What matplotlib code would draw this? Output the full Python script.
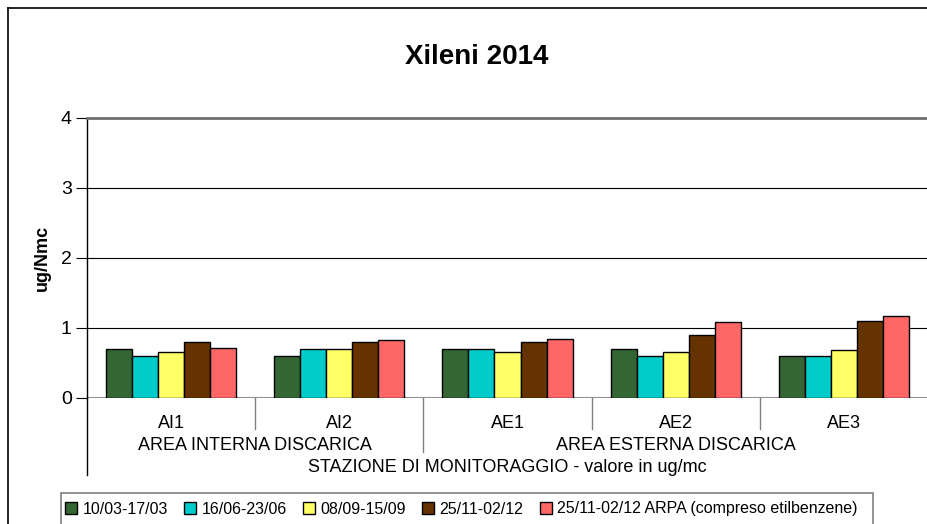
import matplotlib
matplotlib.use("Agg")
import matplotlib.pyplot as plt
import matplotlib.transforms as mtransforms
from matplotlib.lines import Line2D
from matplotlib.patches import Rectangle

plt.rcParams["font.family"] = ["Liberation Sans", "DejaVu Sans"]

# data
stations = ["AI1", "AI2", "AE1", "AE2", "AE3"]
areas = ["AREA INTERNA DISCARICA", "AREA ESTERNA DISCARICA"]
area_span = [(0, 2), (2, 5)]
periods = ["10/03-17/03", "16/06-23/06", "08/09-15/09", "25/11-02/12",
           "25/11-02/12 ARPA (compreso etilbenzene)"]
v_1003 = [0.70, 0.60, 0.70, 0.70, 0.60]
v_1606 = [0.60, 0.70, 0.70, 0.60, 0.60]
v_0809 = [0.66, 0.70, 0.66, 0.66, 0.68]
v_2511 = [0.80, 0.80, 0.80, 0.90, 1.10]
v_arpa = [0.72, 0.83, 0.84, 1.09, 1.17]
series = [v_1003, v_1606, v_0809, v_2511, v_arpa]
colors = ["#336633", "#00CCCC", "#FFFF66", "#663300", "#FF6666"]

W, H = 928, 524
fig = plt.figure(figsize=(W / 100, H / 100), dpi=100)
fig.patch.set_facecolor("white")

# outer chart border (left + top only visible)
fig.add_artist(Line2D([8 / W, 8 / W], [0, 1 - 8 / H], color="black", lw=1.2))
fig.add_artist(Line2D([8 / W, 1], [1 - 8 / H, 1 - 8 / H], color="black", lw=1.2))

ax = fig.add_axes([87 / W, (H - 398) / H, 841 / W, 280 / H])
ax.set_xlim(0, len(stations))
ax.set_ylim(0, 4)

bw = 0.155
start = (1 - bw * len(series)) / 2
for i, (vals, c) in enumerate(zip(series, colors)):
    xs = [k + start + bw * (i + 0.5) for k in range(len(stations))]
    ax.bar(xs, vals, width=bw, color=c, edgecolor="black", linewidth=1.0, zorder=3)

for y in [1, 2, 3]:
    ax.axhline(y, color="black", lw=0.8, zorder=1)
for s in ["right", "bottom"]:
    ax.spines[s].set_visible(False)
ax.spines["top"].set_color("#707070")
ax.spines["top"].set_linewidth(2.0)
ax.axhline(0, color="#909090", lw=1.5, zorder=2)
ax.spines["left"].set_color("black")
ax.spines["left"].set_linewidth(1.0)

ax.set_yticks([0, 1, 2, 3, 4])
ax.tick_params(axis="y", direction="out", length=8, width=0.8, labelsize=14, pad=3)
ax.set_xticks([])
ax.set_ylabel("ug/Nmc", fontsize=13, fontweight="bold", labelpad=7)

tr = mtransforms.blended_transform_factory(ax.transData, ax.transAxes)
px = 1 / 280  # one pixel in axes fraction

# left axis extension below zero
ax.add_line(Line2D([0, 0], [0, -77 * px], transform=tr, color="black", lw=1.0, clip_on=False))
# category separators
for k in range(1, len(stations)):
    long = any(k == a for a, b in area_span[1:])
    ax.add_line(Line2D([k, k], [0, -(54 if long else 31) * px], transform=tr,
                       color="#808080", lw=1.0, clip_on=False))

for k, s in enumerate(stations):
    ax.text(k + 0.5, -25 * px, s, transform=tr, ha="center", va="center", fontsize=13)
for name, (a, b) in zip(areas, area_span):
    ax.text((a + b) / 2, -47 * px, name, transform=tr, ha="center", va="center", fontsize=13)
ax.text(len(stations) / 2, -69 * px, "STAZIONE DI MONITORAGGIO - valore in ug/mc",
        transform=tr, ha="center", va="center", fontsize=13)

fig.text(477 / W, 1 - 57 / H, "Xileni 2014", ha="center", va="center",
         fontsize=20, fontweight="bold")

# legend (frame runs off the bottom edge)
fig.add_artist(Rectangle((61 / W, -0.05), (873 - 61) / W, 0.05 + (H - 493) / H,
                         transform=fig.transFigure, facecolor="white",
                         edgecolor="#808080", lw=1.2))
handles = [Line2D([0], [0], marker="s", ls="none", ms=9, mfc=c, mec="black", mew=1.0)
           for c in colors]
fig.legend(handles, periods, loc="center left", bbox_to_anchor=(65 / W, 1 - 509 / H),
           ncol=5, frameon=False, fontsize=11.5, handlelength=0.8, handletextpad=0.3,
           columnspacing=1.0, borderpad=0, borderaxespad=0)

fig.savefig("out.png", dpi=100, facecolor="white")
